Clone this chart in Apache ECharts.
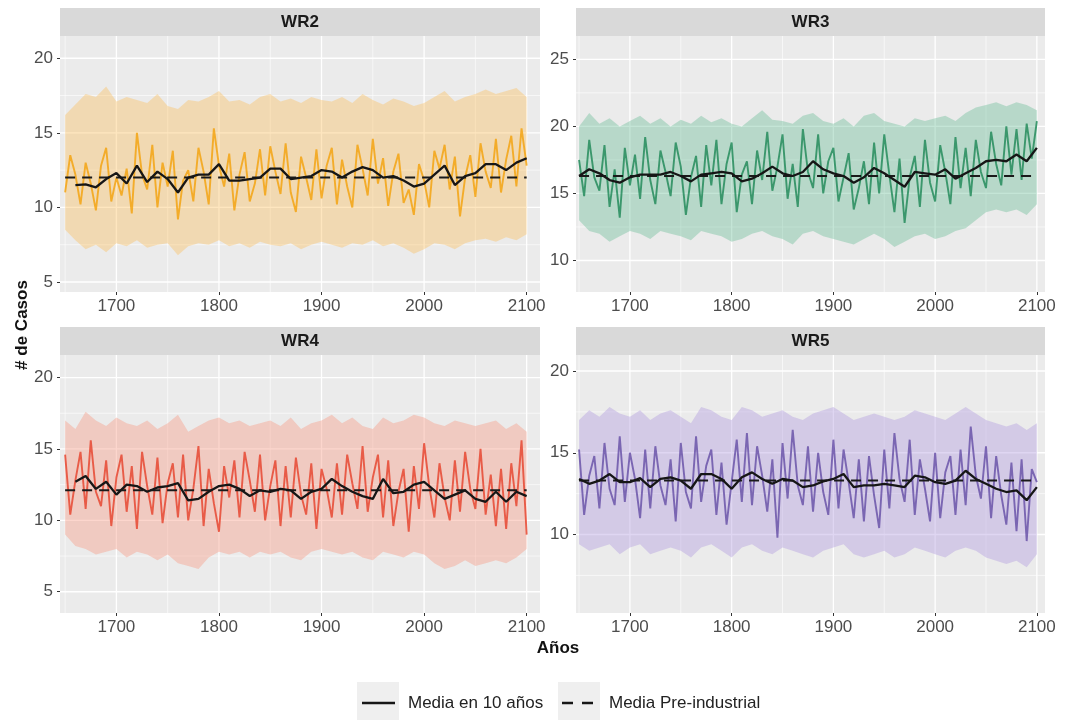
<!DOCTYPE html>
<html>
<head>
<meta charset="UTF-8">
<title>WR</title>
<script src="https://cdn.jsdelivr.net/npm/echarts@6/dist/echarts.min.js"></script>
<style>
html, body { margin: 0; padding: 0; background: #fff; }
#main { width: 1075px; height: 720px; }
</style>
</head>
<body>
<div id="main"></div>
<script>
// años
var years10 = [1650, 1660, 1670, 1680, 1690, 1700, 1710, 1720, 1730, 1740,
  1750, 1760, 1770, 1780, 1790, 1800, 1810, 1820, 1830, 1840,
  1850, 1860, 1870, 1880, 1890, 1900, 1910, 1920, 1930, 1940,
  1950, 1960, 1970, 1980, 1990, 2000, 2010, 2020, 2030, 2040,
  2050, 2060, 2070, 2080, 2090, 2100];
var years5 = [1650, 1655, 1660, 1665, 1670, 1675, 1680, 1685, 1690, 1695,
  1700, 1705, 1710, 1715, 1720, 1725, 1730, 1735, 1740, 1745,
  1750, 1755, 1760, 1765, 1770, 1775, 1780, 1785, 1790, 1795,
  1800, 1805, 1810, 1815, 1820, 1825, 1830, 1835, 1840, 1845,
  1850, 1855, 1860, 1865, 1870, 1875, 1880, 1885, 1890, 1895,
  1900, 1905, 1910, 1915, 1920, 1925, 1930, 1935, 1940, 1945,
  1950, 1955, 1960, 1965, 1970, 1975, 1980, 1985, 1990, 1995,
  2000, 2005, 2010, 2015, 2020, 2025, 2030, 2035, 2040, 2045,
  2050, 2055, 2060, 2065, 2070, 2075, 2080, 2085, 2090, 2095,
  2100];
var xTickLabels = [1700, 1800, 1900, 2000, 2100];

// WR2
var wr2Lo = [8.5, 7.8, 7.2, 7.5, 7.0, 7.6, 7.4, 7.8, 7.3, 7.5,
  7.6, 6.8, 7.4, 7.6, 7.5, 7.8, 7.4, 7.6, 7.3, 7.7,
  7.5, 7.4, 7.6, 7.2, 7.5, 7.7, 7.5, 7.3, 7.6, 7.5,
  7.8, 7.4, 7.6, 7.3, 6.9, 7.2, 7.6, 7.5, 7.2, 7.6,
  7.8, 7.9, 7.7, 8.0, 7.8, 8.2];
var wr2Hi = [16.2, 16.9, 17.6, 17.4, 18.1, 17.1, 17.4, 17.2, 17.0, 17.6,
  16.8, 16.6, 17.2, 17.1, 17.4, 17.8, 17.1, 17.2, 16.9, 17.4,
  17.6, 17.1, 17.3, 17.0, 17.4, 17.2, 17.1, 17.4, 17.0, 17.6,
  17.2, 16.9, 17.3, 17.1, 16.8, 17.0, 17.4, 17.8, 17.1, 17.4,
  17.6, 17.9, 17.6, 17.8, 18.0, 17.4];
var wr2Annual = [11.0, 13.5, 12.2, 10.2, 13.0, 11.6, 9.8, 12.8, 14.0, 10.4,
  12.0, 10.8, 12.6, 9.6, 15.0, 12.2, 11.2, 14.2, 10.0, 13.0,
  11.4, 13.8, 9.2, 11.8, 12.5, 10.4, 14.0, 12.4, 10.2, 15.3,
  12.8, 11.4, 13.6, 9.8, 12.2, 13.7, 10.4, 11.6, 13.9, 10.8,
  14.1, 12.4, 10.9, 14.3, 11.0, 9.7, 13.4, 12.0, 10.5, 13.9,
  10.6, 12.8, 14.0, 10.2, 13.2, 11.4, 10.0, 14.2, 12.6, 10.8,
  14.6, 11.6, 13.3, 10.1, 12.4, 13.6, 10.3, 11.2, 9.5, 12.9,
  11.8, 10.0, 13.8, 12.6, 14.2, 11.2, 13.4, 9.4, 12.0, 13.5,
  10.7, 14.3, 12.4, 11.3, 14.6, 11.0, 13.2, 14.8, 11.4, 15.3,
  12.8];
var wr2Mean = [null, 11.5, 11.55, 11.35, 11.9, 12.3, 11.6, 12.8, 11.7, 12.4,
  11.9, 11.0, 12.0, 12.2, 12.2, 12.9, 11.8, 11.8, 11.9, 12.0,
  12.6, 12.6, 11.9, 12.0, 12.1, 12.5, 12.4, 12.0, 12.4, 12.7,
  12.5, 12.0, 12.1, 11.8, 11.4, 11.6, 12.2, 12.8, 11.5, 12.1,
  12.3, 12.9, 12.9, 12.5, 13.0, 13.3];
var wr2Pre = 12.0;

// WR3
var wr3Lo = [13.0, 12.2, 12.0, 11.4, 11.8, 12.2, 12.0, 11.6, 12.2, 12.0,
  11.8, 11.5, 12.2, 12.0, 11.8, 11.4, 11.6, 12.0, 12.2, 11.8,
  11.6, 11.2, 12.0, 12.2, 11.8, 11.6, 11.4, 11.2, 11.6, 12.0,
  11.6, 11.0, 11.4, 11.8, 12.0, 11.6, 11.8, 12.2, 12.4, 13.0,
  13.6, 13.8, 13.6, 13.8, 13.4, 14.2];
var wr3Hi = [20.0, 21.0, 20.2, 20.6, 20.0, 20.4, 20.8, 20.2, 20.6, 20.0,
  20.5, 20.2, 20.8, 20.3, 20.6, 20.2, 20.0, 20.6, 21.2, 20.5,
  20.4, 20.2, 20.8, 21.0, 20.4, 20.2, 20.6, 20.0, 20.8, 21.0,
  20.4, 20.2, 20.0, 20.6, 20.4, 20.6, 20.8, 20.4, 21.0, 21.4,
  21.6, 21.8, 21.5, 21.8, 21.6, 21.2];
var wr3Annual = [17.5, 14.8, 19.0, 16.2, 15.2, 18.6, 14.0, 16.8, 13.2, 18.4,
  15.6, 17.9, 14.6, 19.2, 16.0, 14.2, 18.2, 16.6, 14.8, 18.8,
  17.0, 13.4, 16.2, 17.8, 14.0, 18.6, 15.6, 19.0, 14.2, 17.2,
  18.8, 13.6, 16.4, 17.4, 14.2, 18.2, 16.0, 19.6, 15.2, 17.0,
  19.4, 14.6, 17.2, 14.0, 19.8, 16.6, 15.4, 19.4, 15.0, 17.4,
  18.4, 14.4, 16.2, 18.0, 13.8, 15.4, 17.4, 14.2, 18.8, 15.0,
  19.4, 16.4, 13.6, 17.6, 12.8, 16.2, 17.8, 14.0, 19.0, 15.8,
  14.4, 18.6, 16.6, 14.2, 19.2, 15.4, 18.4, 14.8, 19.0, 16.6,
  15.4, 19.6, 17.2, 15.6, 20.0, 16.4, 19.8, 16.0, 20.2, 17.6,
  20.4];
var wr3Mean = [16.3, 16.8, 16.5, 16.0, 15.8, 16.2, 16.4, 16.4, 16.4, 16.6,
  16.3, 15.9, 16.4, 16.5, 16.6, 16.5, 15.9, 16.1, 16.5, 17.0,
  16.5, 16.3, 16.6, 17.4, 16.8, 16.5, 16.3, 15.8, 16.2, 16.9,
  16.5, 16.0, 15.5, 16.6, 16.5, 16.4, 16.8, 16.1, 16.5, 16.9,
  17.4, 17.5, 17.4, 17.9, 17.4, 18.4];
var wr3Pre = 16.3;

// WR4
var wr4Lo = [9.0, 8.2, 8.0, 7.6, 7.8, 8.0, 7.4, 7.8, 7.6, 7.2,
  7.6, 7.0, 6.8, 6.6, 7.4, 7.8, 7.6, 7.8, 7.4, 7.8,
  7.6, 7.8, 7.4, 7.2, 7.8, 8.0, 7.8, 7.6, 7.8, 7.4,
  7.2, 7.8, 7.6, 7.4, 7.8, 7.6, 7.0, 6.6, 6.8, 7.2,
  6.8, 7.0, 7.2, 7.0, 7.4, 8.0];
var wr4Hi = [17.0, 16.4, 17.6, 17.0, 16.6, 17.2, 16.8, 16.6, 17.0, 16.4,
  16.8, 17.4, 16.2, 16.6, 17.0, 17.2, 16.8, 17.0, 16.6, 16.8,
  17.0, 16.6, 17.2, 16.4, 16.8, 17.0, 17.4, 16.8, 17.2, 16.6,
  16.4, 17.2, 16.8, 17.0, 17.4, 17.2, 16.8, 16.6, 17.0, 16.8,
  16.6, 16.8, 17.0, 16.4, 16.8, 16.2];
var wr4Annual = [14.6, 10.4, 12.8, 14.8, 10.8, 15.6, 12.0, 11.0, 14.2, 9.6,
  13.0, 14.6, 10.6, 13.8, 9.4, 14.8, 12.4, 10.4, 14.4, 9.8,
  12.6, 14.0, 10.2, 14.6, 10.0, 12.2, 15.2, 9.6, 13.6, 11.2,
  9.2, 13.8, 11.6, 14.2, 10.2, 14.8, 12.8, 10.6, 14.6, 10.0,
  12.4, 14.2, 9.6, 13.8, 10.2, 14.4, 11.8, 10.4, 14.0, 9.4,
  13.6, 12.2, 10.2, 14.0, 10.4, 14.6, 12.6, 10.8, 15.2, 10.6,
  13.0, 14.6, 10.2, 14.2, 9.6, 12.0, 13.6, 9.2, 13.8, 10.8,
  15.4, 12.4, 10.2, 14.0, 11.6, 10.0, 14.2, 10.6, 14.8, 12.2,
  10.8, 15.0, 10.4, 13.2, 9.6, 13.6, 9.4, 14.0, 11.0, 15.6,
  9.0];
var wr4Mean = [null, 12.7, 13.1, 12.2, 12.7, 11.8, 12.5, 12.4, 12.0, 12.3,
  12.4, 12.6, 11.4, 11.5, 12.0, 12.4, 12.5, 12.2, 11.7, 12.1,
  12.0, 12.2, 12.1, 11.5, 12.0, 12.2, 12.9, 12.4, 12.0, 11.7,
  11.5, 12.9, 11.9, 12.0, 12.5, 12.7, 12.1, 11.5, 11.8, 12.1,
  11.5, 11.3, 12.0, 11.3, 12.0, 11.7];
var wr4Pre = 12.1;

// WR5
var wr5Lo = [9.4, 9.0, 9.2, 9.4, 8.8, 9.2, 9.4, 8.8, 9.0, 9.2,
  9.0, 8.6, 9.2, 9.4, 9.0, 8.6, 9.2, 9.4, 9.0, 8.8,
  9.2, 9.0, 8.8, 8.6, 9.0, 9.2, 9.4, 8.8, 8.6, 8.8,
  9.0, 8.6, 8.8, 9.2, 9.0, 8.8, 8.6, 9.0, 9.2, 9.0,
  8.6, 8.4, 8.2, 8.4, 8.0, 8.8];
var wr5Hi = [17.0, 17.6, 17.2, 17.8, 17.4, 17.2, 17.6, 17.0, 17.4, 17.6,
  17.2, 16.8, 17.8, 17.6, 17.2, 17.0, 17.8, 17.6, 17.2, 17.4,
  17.6, 17.2, 17.0, 17.4, 17.6, 17.8, 17.4, 17.0, 17.2, 17.4,
  17.2, 17.0, 17.2, 17.6, 17.4, 17.2, 17.0, 17.4, 17.8, 17.4,
  17.0, 16.8, 16.6, 16.8, 16.4, 16.8];
var wr5Annual = [15.2, 11.2, 13.6, 14.8, 11.6, 15.6, 12.8, 11.8, 16.0, 12.0,
  15.0, 13.4, 11.0, 15.2, 11.6, 15.4, 13.0, 11.8, 14.6, 10.8,
  15.6, 12.6, 11.6, 16.0, 12.0, 14.2, 15.2, 11.2, 14.4, 10.6,
  13.2, 15.8, 12.0, 16.2, 11.8, 15.4, 13.6, 11.4, 14.6, 9.8,
  15.6, 12.2, 16.4, 13.0, 11.8, 15.4, 11.4, 15.0, 12.6, 11.2,
  15.8, 11.6, 15.2, 13.2, 11.0, 14.6, 10.8, 14.8, 12.4, 10.4,
  15.2, 11.6, 16.2, 13.4, 12.0, 15.8, 11.2, 14.6, 12.8, 10.8,
  15.0, 11.0, 13.8, 14.8, 11.2, 15.2, 11.8, 16.6, 13.6, 12.2,
  15.4, 11.0, 14.8, 12.4, 10.6, 14.4, 10.2, 14.6, 9.6, 14.0,
  13.2];
var wr5Mean = [13.4, 13.1, 13.3, 13.7, 13.2, 13.2, 13.45, 12.9, 13.4, 13.5,
  13.3, 12.8, 13.7, 13.7, 13.4, 12.8, 13.5, 13.8, 13.4, 13.1,
  13.4, 13.3, 12.9, 13.0, 13.25, 13.4, 13.7, 12.9, 13.0, 13.0,
  13.1, 13.0, 12.9, 13.6, 13.5, 13.2, 13.1, 13.3, 13.9, 13.4,
  13.1, 12.8, 12.6, 12.7, 12.1, 12.9];
var wr5Pre = 13.3;

var FONT = 'Liberation Sans, Arial, Helvetica, sans-serif';

var panels = [
  { name: 'WR2', left: 60, top: 36, width: 480, height: 256, xMin: 1645, xMax: 2113,
    yMin: 4.33, yMax: 21.49, yTicks: [5, 10, 15, 20], yMinor: [7.5, 12.5, 17.5],
    lo: wr2Lo, hi: wr2Hi, annual: wr2Annual, mean: wr2Mean, pre: wr2Pre,
    band: 'rgba(252,190,86,0.38)', line: 'rgba(244,160,8,0.8)' },
  { name: 'WR3', left: 576, top: 36, width: 469, height: 256, xMin: 1647, xMax: 2108,
    yMin: 7.65, yMax: 26.74, yTicks: [10, 15, 20, 25], yMinor: [12.5, 17.5, 22.5],
    lo: wr3Lo, hi: wr3Hi, annual: wr3Annual, mean: wr3Mean, pre: wr3Pre,
    band: 'rgba(100,186,148,0.38)', line: 'rgba(28,135,85,0.8)' },
  { name: 'WR4', left: 60, top: 355, width: 480, height: 258, xMin: 1645, xMax: 2113,
    yMin: 3.51, yMax: 21.58, yTicks: [5, 10, 15, 20], yMinor: [7.5, 12.5, 17.5],
    lo: wr4Lo, hi: wr4Hi, annual: wr4Annual, mean: wr4Mean, pre: wr4Pre,
    band: 'rgba(248,152,130,0.40)', line: 'rgba(230,62,40,0.8)' },
  { name: 'WR5', left: 576, top: 355, width: 469, height: 258, xMin: 1647, xMax: 2108,
    yMin: 5.2, yMax: 20.98, yTicks: [10, 15, 20], yMinor: [7.5, 12.5, 17.5],
    lo: wr5Lo, hi: wr5Hi, annual: wr5Annual, mean: wr5Mean, pre: wr5Pre,
    band: 'rgba(174,152,222,0.40)', line: 'rgba(100,76,165,0.8)' }
];

function pairs(xs, ys) {
  return xs.map(function (x, i) { return [x, ys[i]]; });
}
function plain(v) { return String(v); }

var grids = [], xAxes = [], yAxes = [], series = [], graphics = [];

panels.forEach(function (p, gi) {
  grids.push({ left: p.left, top: p.top, width: p.width, height: p.height,
    show: true, backgroundColor: '#ebebeb', borderWidth: 0, containLabel: false });

  xAxes.push({
    type: 'value', gridIndex: gi, min: p.xMin, max: p.xMax,
    splitLine: { show: false }, axisLine: { show: false },
    axisTick: { show: true, length: 3, lineStyle: { color: '#333', width: 1 }, customValues: xTickLabels },
    axisLabel: { customValues: xTickLabels, formatter: plain, color: '#4d4d4d', fontSize: 17, fontFamily: FONT, margin: 6 }
  });
  yAxes.push({
    type: 'value', gridIndex: gi, min: p.yMin, max: p.yMax,
    splitLine: { show: false }, axisLine: { show: false },
    axisTick: { show: true, length: 3, lineStyle: { color: '#333', width: 1 }, customValues: p.yTicks },
    axisLabel: { customValues: p.yTicks, formatter: plain, color: '#4d4d4d', fontSize: 17, fontFamily: FONT, margin: 7 }
  });

  // white grid lines (ggplot style): [x, y, orientation, width]
  var gl = [];
  [1650, 1750, 1850, 1950, 2050].forEach(function (v) { gl.push([v, p.yMin, 0, 0.6]); });
  xTickLabels.forEach(function (v) { gl.push([v, p.yMin, 0, 1.3]); });
  p.yMinor.forEach(function (v) { gl.push([p.xMin, v, 1, 0.6]); });
  p.yTicks.forEach(function (v) { gl.push([p.xMin, v, 1, 1.3]); });
  series.push({
    type: 'custom', xAxisIndex: gi, yAxisIndex: gi, z: 1, silent: true, clip: true,
    data: gl,
    renderItem: function (params, api) {
      var cs = params.coordSys;
      var pt = api.coord([api.value(0), api.value(1)]);
      var w = api.value(3);
      if (api.value(2) === 0) {
        return { type: 'line', shape: { x1: pt[0], y1: cs.y, x2: pt[0], y2: cs.y + cs.height },
          style: { stroke: '#ffffff', lineWidth: w } };
      }
      return { type: 'line', shape: { x1: cs.x, y1: pt[1], x2: cs.x + cs.width, y2: pt[1] },
        style: { stroke: '#ffffff', lineWidth: w } };
    }
  });

  // ensemble band
  series.push({
    type: 'custom', xAxisIndex: gi, yAxisIndex: gi, z: 2, silent: true, clip: true,
    data: [[years10[0], p.lo[0]]],
    renderItem: function (params, api) {
      var pts = [];
      for (var i = 0; i < years10.length; i++) pts.push(api.coord([years10[i], p.hi[i]]));
      for (var j = years10.length - 1; j >= 0; j--) pts.push(api.coord([years10[j], p.lo[j]]));
      return { type: 'polygon', shape: { points: pts }, style: { fill: p.band } };
    }
  });

  // annual series
  series.push({
    type: 'line', xAxisIndex: gi, yAxisIndex: gi, z: 3, silent: true,
    data: pairs(years5, p.annual), symbol: 'none', smooth: false,
    lineStyle: { color: p.line, width: 1.9 }
  });

  // pre-industrial mean
  series.push({
    name: 'Media Pre-industrial',
    type: 'line', xAxisIndex: gi, yAxisIndex: gi, z: 4, silent: true,
    data: [[1650, p.pre], [2100, p.pre]], symbol: 'none',
    lineStyle: { color: '#1a1a1a', width: 2, type: [10, 7] }
  });

  // 10-year mean
  series.push({
    name: 'Media en 10 años',
    type: 'line', xAxisIndex: gi, yAxisIndex: gi, z: 5, silent: true,
    data: pairs(years10, p.mean), symbol: 'none', connectNulls: false,
    lineStyle: { color: '#161616', width: 2.3 }
  });

  // facet strip
  graphics.push({ type: 'rect', shape: { x: p.left, y: p.top - 28, width: p.width, height: 28 },
    style: { fill: '#d9d9d9' }, silent: true });
  graphics.push({ type: 'text', x: p.left + p.width / 2, y: p.top - 14,
    style: { text: p.name, font: 'bold 17px ' + FONT, fill: '#1a1a1a', align: 'center', verticalAlign: 'middle' },
    silent: true });
});

// axis titles
graphics.push({ type: 'text', x: 558, y: 648,
  style: { text: 'Años', font: 'bold 17px ' + FONT, fill: '#111', align: 'center', verticalAlign: 'middle' } });
graphics.push({ type: 'text', x: 22, y: 325, rotation: Math.PI / 2,
  style: { text: '# de Casos', font: 'bold 17px ' + FONT, fill: '#111', align: 'center', verticalAlign: 'middle' } });

// legend
graphics.push({ type: 'rect', shape: { x: 357, y: 682, width: 42, height: 38 }, style: { fill: '#efefef' } });
graphics.push({ type: 'line', shape: { x1: 362, y1: 703, x2: 395, y2: 703 }, style: { stroke: '#161616', lineWidth: 2.5 } });
graphics.push({ type: 'text', x: 408, y: 703,
  style: { text: 'Media en 10 años', font: '17px ' + FONT, fill: '#222', align: 'left', verticalAlign: 'middle' } });
graphics.push({ type: 'rect', shape: { x: 558, y: 682, width: 42, height: 38 }, style: { fill: '#efefef' } });
graphics.push({ type: 'line', shape: { x1: 562, y1: 703, x2: 594, y2: 703 },
  style: { stroke: '#161616', lineWidth: 2.5, lineDash: [11, 9] } });
graphics.push({ type: 'text', x: 609, y: 703,
  style: { text: 'Media Pre-industrial', font: '17px ' + FONT, fill: '#222', align: 'left', verticalAlign: 'middle' } });

var chart = echarts.init(document.getElementById('main'));
var option = {
  animation: false,
  backgroundColor: '#ffffff',
  grid: grids,
  xAxis: xAxes,
  yAxis: yAxes,
  series: series,
  graphic: graphics
};
chart.setOption(option);
</script>
</body>
</html>
